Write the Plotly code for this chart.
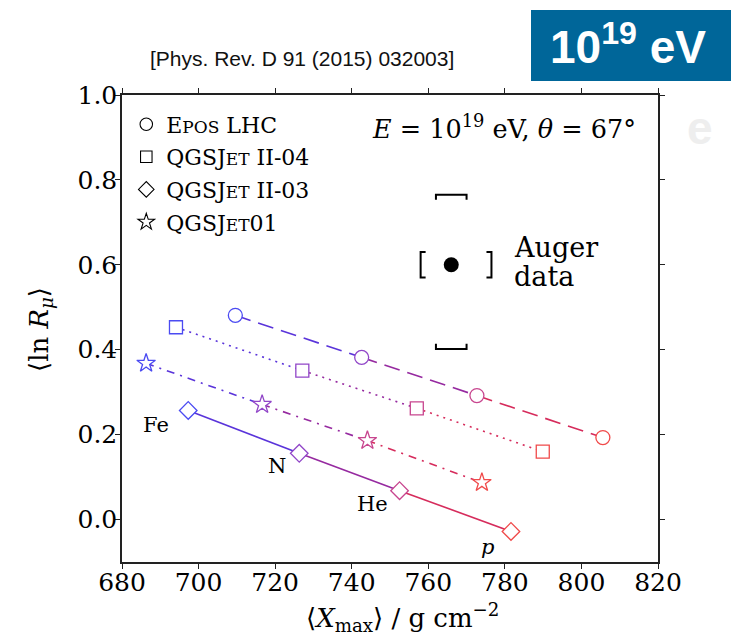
import plotly.graph_objects as go

# ---------------- data ----------------
elements = ["Fe", "N", "He", "p"]

epos_x = [709.6, 742.6, 772.7, 805.6]
epos_y = [0.481, 0.382, 0.292, 0.193]

q204_x = [694.1, 727.1, 757.0, 789.9]
q204_y = [0.453, 0.351, 0.262, 0.160]

q01_x = [686.3, 716.6, 744.1, 774.0]
q01_y = [0.368, 0.271, 0.186, 0.087]

q203_x = [697.3, 726.3, 752.5, 781.6]
q203_y = [0.257, 0.156, 0.068, -0.028]

label_x = [689.0, 720.5, 745.5, 775.5]
label_y = [0.222, 0.125, 0.036, -0.064]

auger_x = 766.0
auger_y = 0.600
auger_sys_x = [8.0, 10.5]     # lower, upper
auger_sys_y = [0.198, 0.165]  # lower, upper

x_ticks = [680, 700, 720, 740, 760, 780, 800, 820]
y_ticks = [0.0, 0.2, 0.4, 0.6, 0.8, 1.0]

SC = "<span style='font-size:17px'>{}</span>"
models = [
    dict(name="E" + SC.format("POS") + " LHC", x=epos_x, y=epos_y,
         symbol="circle", size=14, dash="16px,8px"),
    dict(name="QGSJ" + SC.format("ET") + " II-04", x=q204_x, y=q204_y,
         symbol="square", size=13, dash="2px,5px"),
    dict(name="QGSJ" + SC.format("ET") + " II-03", x=q203_x, y=q203_y,
         symbol="diamond", size=13.5, dash="solid"),
    dict(name="QGSJ" + SC.format("ET") + "01", x=q01_x, y=q01_y,
         symbol="star", size=14, dash="8px,6px,2px,6px"),
]

# ---------------- style ----------------
SERIF = "DejaVu Serif, Liberation Serif, serif"
SANS = "Liberation Sans, Arial, sans-serif"
elem_colors = ["#4b4bf2", "#9146c8", "#c8468f", "#f04a4a"]
seg_colors = ["#5a34da", "#962aa0", "#d62c5c"]

fig = go.Figure()

# lines (segment-wise colour gradient)
for m in models:
    for i in range(len(m["x"]) - 1):
        fig.add_trace(go.Scatter(
            x=m["x"][i:i + 2], y=m["y"][i:i + 2], mode="lines",
            line=dict(color=seg_colors[i], width=1.6, dash=m["dash"]),
            showlegend=False, hoverinfo="skip"))

# markers
for m in models:
    fig.add_trace(go.Scatter(
        x=m["x"], y=m["y"], mode="markers",
        marker=dict(symbol=m["symbol"], size=m["size"], color="white",
                    line=dict(color=elem_colors, width=1.3)),
        showlegend=False))

# legend entries (black open markers)
for k, m in enumerate(models):
    fig.add_trace(go.Scatter(
        x=[None], y=[None], mode="markers", name=m["name"], legendgroup="g%d" % k,
        marker=dict(symbol=m["symbol"], size=m["size"] - 1.5, color="white",
                    line=dict(color="black", width=1.1))))

# Auger data point with systematic brackets
cap_w, cap_arm = 4.0, 0.012
side_h, side_arm = 0.03, 1.3
yh = auger_y + auger_sys_y[1]
yl = auger_y - auger_sys_y[0]
xl = auger_x - auger_sys_x[0]
xh = auger_x + auger_sys_x[1]
bx = [auger_x - cap_w, auger_x - cap_w, auger_x + cap_w, auger_x + cap_w, None,
      auger_x - cap_w, auger_x - cap_w, auger_x + cap_w, auger_x + cap_w, None,
      xl + side_arm, xl, xl, xl + side_arm, None,
      xh - side_arm, xh, xh, xh - side_arm]
by = [yh - cap_arm, yh, yh, yh - cap_arm, None,
      yl + cap_arm, yl, yl, yl + cap_arm, None,
      auger_y + side_h, auger_y + side_h, auger_y - side_h, auger_y - side_h, None,
      auger_y + side_h, auger_y + side_h, auger_y - side_h, auger_y - side_h]
fig.add_trace(go.Scatter(x=bx, y=by, mode="lines",
                         line=dict(color="black", width=2), showlegend=False))
fig.add_trace(go.Scatter(x=[auger_x], y=[auger_y], mode="markers",
                         marker=dict(color="black", size=15), showlegend=False))

annotations = []
for name, lx, ly in zip(elements, label_x, label_y):
    txt = "<i>p</i>" if name == "p" else name
    annotations.append(dict(x=lx, y=ly, text=txt, showarrow=False,
                            xanchor="center", yanchor="middle",
                            font=dict(family=SERIF, size=21, color="black")))


def px(p):
    return (p - 122) / 536.0


def py(p):
    return (562 - p) / 467.0


def note(x, y, text, font, xanchor="center", **kw):
    d = dict(x=px(x), y=py(y), xref="paper", yref="paper", xanchor=xanchor,
             yanchor="middle", text=text, showarrow=False, font=font)
    d.update(kw)
    return d


annotations += [
    note(638, 127, "<i>E</i> = 10<sup>19</sup> eV, <i>θ</i> = 67°",
         dict(family=SERIF, size=25.5, color="black"), xanchor="right"),
    note(512, 247, "Auger", dict(family=SERIF, size=27, color="black"), xanchor="left"),
    note(512, 276, "data", dict(family=SERIF, size=27, color="black"), xanchor="left"),
    note(402, 617, "⟨<i>X</i><sub>max</sub>⟩ / g cm<sup>−2</sup>",
         dict(family=SERIF, size=26, color="black")),
    note(40, 330, "⟨ln <i>R</i><sub><i>μ</i></sub>⟩",
         dict(family=SERIF, size=26, color="black"), textangle=-90),
    note(148, 58, "[Phys. Rev. D 91 (2015) 032003]",
         dict(family=SANS, size=21, color="#111111"), xanchor="left"),
    note(628, 44, "<b>10<sup>19</sup> eV</b>", dict(family=SANS, size=46, color="white")),
    note(700, 128, "<b>e</b>", dict(family=SANS, size=46, color="#eeeeee")),
]

shapes = [dict(type="rect", xref="paper", yref="paper",
               x0=px(531), x1=px(731), y0=py(81), y1=py(10),
               fillcolor="#006699", line=dict(width=0), layer="below")]

axis_common = dict(showline=True, linecolor="#222222", linewidth=1.5, mirror="ticks",
                   ticks="outside", ticklen=5, tickwidth=1.2, tickcolor="#222222",
                   showgrid=False, zeroline=False,
                   tickfont=dict(family=SERIF, size=25, color="black"))

fig.update_layout(
    width=732, height=644, autosize=False,
    margin=dict(l=122, r=74, t=95, b=82),
    paper_bgcolor="white", plot_bgcolor="white",
    xaxis=dict(range=[680, 820], tickvals=x_ticks, ticklabelstandoff=-8, **axis_common),
    yaxis=dict(range=[-0.1, 1.0], tickvals=y_ticks, tickformat=".1f",
               ticklabelstandoff=-7, **axis_common),
    legend=dict(x=0.008, y=0.982, xanchor="left", yanchor="top",
                bgcolor="rgba(0,0,0,0)", tracegroupgap=1,
                font=dict(family=SERIF, size=22, color="black")),
    annotations=annotations, shapes=shapes,
)

fig.write_html("out.html")
